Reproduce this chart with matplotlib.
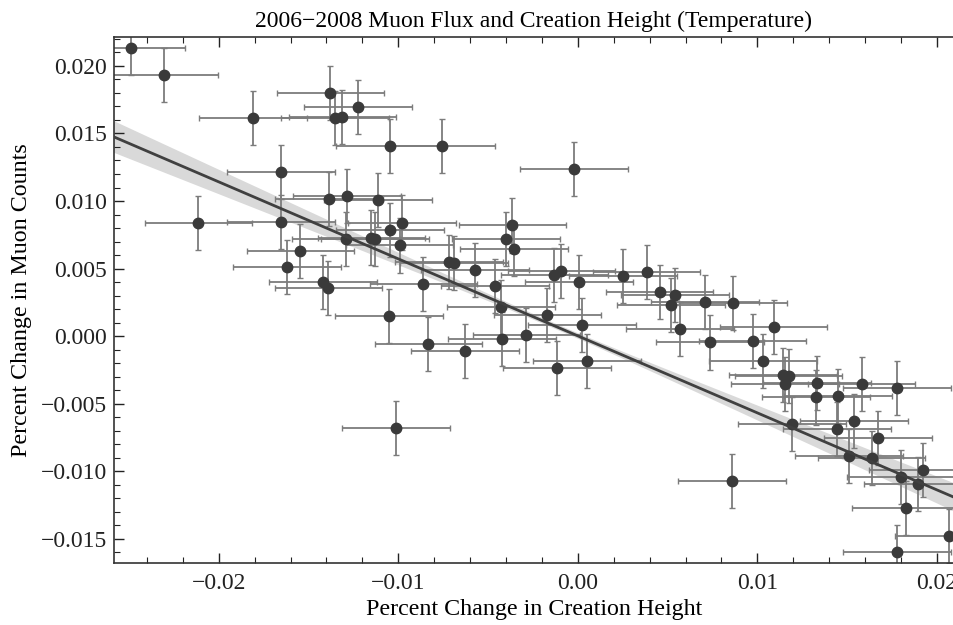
import numpy as np
import matplotlib
matplotlib.use('Agg')
import matplotlib.pyplot as plt
from matplotlib.ticker import MultipleLocator, FuncFormatter

# percent change in creation height (x) and in muon counts (y)
height_change = [-0.02490, -0.02305, -0.01809, -0.01378, -0.01354, -0.01311, -0.01224,
                 -0.01046, -0.00759, -0.01655, -0.02113, -0.01655, -0.01385, -0.01285,
                 -0.01112, -0.01291, -0.01149, -0.01129, -0.01046, -0.00981, -0.00993,
                 -0.01545, -0.01621, -0.01421, -0.01389, -0.00860, -0.00719, -0.00691,
                 -0.00572, -0.00462, -0.00427, -0.00401, -0.00364, -0.00357, -0.01051,
                 -0.00832, -0.00628, -0.00423, -0.01014, -0.00021, -0.00130, -0.00091,
                 0.00007, 0.00251, 0.00383, 0.00455, 0.00542, 0.00520, 0.00709,
                 0.00864, -0.00169, 0.00024, 0.01090, 0.00570, -0.00286, -0.00115,
                 0.00052, 0.00735, 0.00973, 0.01032, 0.01144, 0.01174, 0.01155,
                 0.01331, 0.01328, 0.01448, 0.01580, 0.01779, 0.01194, 0.01443,
                 0.01538, 0.01673, 0.01510, 0.01636, 0.01801, 0.01896, 0.01922,
                 0.01827, 0.01779, 0.02067, 0.00860]
count_change = [0.02135, 0.01930, 0.01615, 0.01800, 0.01618, 0.01622, 0.01696,
                0.01410, 0.01410, 0.01213, 0.00838, 0.00848, 0.01013, 0.01038,
                0.01011, 0.00722, 0.00730, 0.00722, 0.00789, 0.00841, 0.00671,
                0.00629, 0.00510, 0.00402, 0.00357, 0.00385, 0.00550, 0.00538,
                0.00488, 0.00372, 0.00212, 0.00722, 0.00819, 0.00643, 0.00150,
                -0.00061, -0.00111, -0.00024, -0.00678, 0.01238, 0.00451, 0.00483,
                0.00402, 0.00446, 0.00473, 0.00328, 0.00306, 0.00232, 0.00254,
                0.00246, 0.00160, 0.00079, 0.00067, 0.00052, 0.00005, -0.00237,
                -0.00185, -0.00047, -0.00039, -0.00185, -0.00291, -0.00296, -0.00353,
                -0.00345, -0.00454, -0.00441, -0.00353, -0.00382, -0.00653, -0.00690,
                -0.00626, -0.00757, -0.00888, -0.00905, -0.01043, -0.01092, -0.00989,
                -0.01275, -0.01598, -0.01479, -0.01070]
height_err = 0.003
count_err = 0.002

# fitted line and its confidence band
fit_slope = -0.570
fit_intercept = 0.00002
band_center = -0.001
band_min = 0.0002
band_growth = 0.0465

x = np.array(height_change)
y = np.array(count_change)

xs = np.linspace(-0.03, 0.025, 200)
fit = fit_intercept + fit_slope * xs
half = np.sqrt(band_min**2 + (band_growth * (xs - band_center))**2)

plt.rcParams['font.family'] = ['Liberation Serif', 'DejaVu Serif']
plt.rcParams['axes.unicode_minus'] = True

fig = plt.figure(figsize=(9.54, 6.25), dpi=100)
ax = fig.add_axes([114 / 954, 1 - 563 / 625, 1 - 114 / 954, (563 - 37) / 625])

ax.fill_between(xs, fit - half, fit + half, color='#d9d9d9', lw=0, zorder=1)
ax.plot(xs, fit, color='#404040', lw=2, zorder=3)
ax.errorbar(x, y, xerr=height_err, yerr=count_err, fmt='o', ms=7.5,
            color='#3a3a3a', ecolor='#7c7c7c', elinewidth=1.3, capsize=2,
            capthick=1, zorder=2)

ax.set_xlim(-0.02583, 0.02095)
ax.set_ylim(-0.01679, 0.02214)

ax.xaxis.set_major_locator(MultipleLocator(0.01))
ax.xaxis.set_minor_locator(MultipleLocator(0.002))
ax.yaxis.set_major_locator(MultipleLocator(0.005))
ax.yaxis.set_minor_locator(MultipleLocator(0.001))
ax.xaxis.set_major_formatter(FuncFormatter(lambda v, p: ('%.2f' % v).replace('-', '\u2212')))
ax.yaxis.set_major_formatter(FuncFormatter(lambda v, p: ('%.3f' % v).replace('-', '\u2212')))

ax.tick_params(which='both', direction='in', top=True, right=False, colors='#222222',
               labelsize=17)
ax.tick_params(which='major', length=7, width=1)
ax.tick_params(which='minor', length=4, width=0.8)
ax.tick_params(axis='x', pad=7)
ax.tick_params(axis='y', pad=5)
for side in ['left', 'bottom', 'top']:
    ax.spines[side].set_color('#333333')
    ax.spines[side].set_linewidth(1.2)
ax.spines['right'].set_visible(False)

ax.set_title('2006\u22122008 Muon Flux and Creation Height (Temperature)', fontsize=17, pad=7)
ax.set_xlabel('Percent Change in Creation Height', fontsize=17.3, labelpad=4)
ax.set_ylabel('Percent Change in Muon Counts', fontsize=17.3, labelpad=6)

fig.savefig('out.png', dpi=100)
